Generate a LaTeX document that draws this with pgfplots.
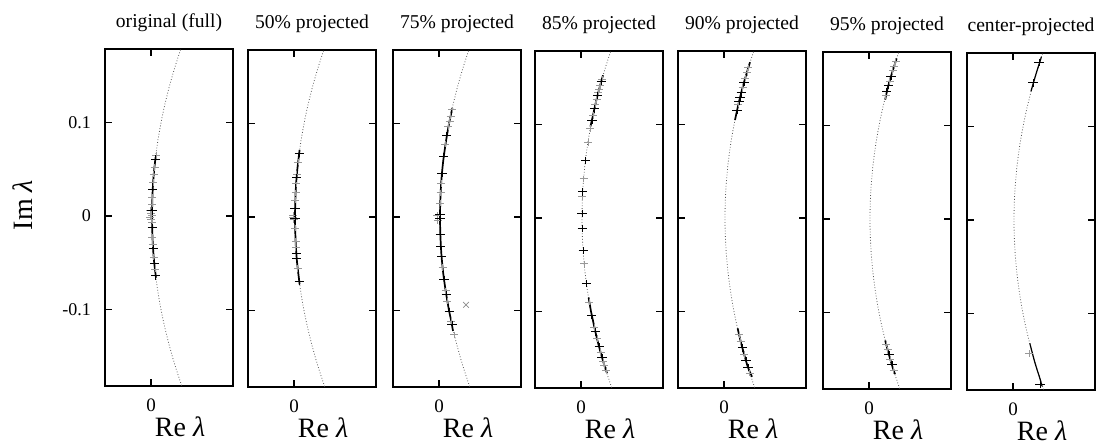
\documentclass[border=0pt]{standalone}
\usepackage{pgfplots}
\pgfplotsset{compat=1.18}
\usepackage{pgfplotstable}
\usepackage{fontspec}
\setmainfont{Liberation Serif}

\pgfplotstableread{
x y
0.01675 -0.19
0.01508 -0.18
0.01351 -0.17
0.01202 -0.16
0.01063 -0.15
0.00932 -0.14
0.00811 -0.13
0.00698 -0.12
0.00595 -0.11
0.00500 -0.10
0.00415 -0.09
0.00338 -0.08
0.00271 -0.07
0.00212 -0.06
0.00163 -0.05
0.00122 -0.04
0.00091 -0.03
0.00068 -0.02
0.00055 -0.01
0.00050 0
0.00055 0.01
0.00068 0.02
0.00091 0.03
0.00122 0.04
0.00163 0.05
0.00212 0.06
0.00271 0.07
0.00338 0.08
0.00415 0.09
0.00500 0.10
0.00595 0.11
0.00698 0.12
0.00811 0.13
0.00932 0.14
0.01063 0.15
0.01202 0.16
0.01351 0.17
0.01508 0.18
0.01675 0.19
}\curvetab

\pgfplotsset{
  panel/.style={
    width=64pt, height=168.5pt, scale only axis, anchor=south west,
    xmin=-0.023, xmax=0.041, ymin=-0.182, ymax=0.179,
    xtick={0}, xticklabels={0}, ytick={-0.1,0,0.1}, yticklabels={},
    tick pos=both, tick align=inside, major tick length=3.5pt,
    xticklabel pos=lower, yticklabel pos=left,
    axis line style={line width=0.6pt},
    every tick/.style={black, line width=0.7pt},
    title style={at={(axis description cs:0.5,1.029)}, anchor=base, font=\fontsize{9.8}{11}\selectfont},
    xticklabel style={anchor=base, yshift=-13pt, font=\fontsize{9.5}{11}\selectfont},
    yticklabel style={xshift=-3.5pt, font=\fontsize{9}{10}\selectfont},
    xlabel={Re \textit{λ}},
    xlabel style={at={(axis description cs:0.586,-0.15)}, anchor=base, inner sep=0pt, font=\fontsize{14}{16}\selectfont},
  },
  curvestyle/.style={black!65, line width=0.4pt, dash pattern=on 0.4pt off 1pt, smooth, no marks},
  segstyle/.style={black, line width=0.85pt, smooth, no marks},
  bmarks/.style={only marks, mark=+, mark size=2.3pt, mark options={black, line width=0.5pt, yscale=0.8}},
  gmarks/.style={only marks, mark=+, mark size=2pt, mark options={black!40, line width=0.4pt, yscale=0.8}},
}

\begin{document}
\begin{tikzpicture}
\path[use as bounding box] (0,0) rectangle (549pt,224pt);

% Panel 1
\begin{axis}[panel, at={(52.5pt,31pt)}, title={original (full)},
  yticklabels={-0.1,0,0.1},
  ylabel={Im \textit{λ}},
  ylabel style={at={(axis description cs:-0.64,0.537)}, anchor=center, font=\fontsize{14}{16}\selectfont}]
\addplot[curvestyle] table {\curvetab};
\addplot[segstyle] coordinates {(0.0025,-0.066)(0.0016,-0.05)(0.0012,-0.04)(0.0009,-0.03)(0.0007,-0.02)(0.0005,0)(0.0007,0.02)(0.0009,0.03)(0.0012,0.04)(0.0016,0.05)(0.0023,0.063)};
\addplot[gmarks] coordinates {(0.0014,0.045)(0.0011,0.036)(0.0007,0.02)(0.0006,0.013)(0.0000,0.003)(-0.0003,-0.001)(0.0003,0.001)(0.0005,-0.007)(0.0007,-0.023)(0.0009,-0.03)(0.0014,-0.044)(0.0020,-0.057)(0.0025,0.065)(0.0018,0.052)(0.0001,-0.004)(-0.0004,0.006)};
\addplot[bmarks] coordinates {(0.0022,0.061)(0.0009,0.029)(0.0005,0.006)(0.0006,-0.012)(0.0011,-0.035)(0.0017,-0.051)(0.0023,-0.064)};
\end{axis}

% Panel 2
\begin{axis}[panel, at={(124pt,30.5pt)}, title={50\% projected}]
\addplot[curvestyle] table {\curvetab};
\addplot[segstyle] coordinates {(0.0028,-0.072)(0.0016,-0.05)(0.0012,-0.04)(0.0009,-0.03)(0.0007,-0.02)(0.0005,0)(0.0007,0.02)(0.0009,0.03)(0.0012,0.04)(0.0016,0.05)(0.0028,0.072)};
\addplot[gmarks] coordinates {(0.0021,0.059)(0.0011,0.036)(0.0008,0.026)(0.0006,0.018)(0.0006,-0.012)(0.0008,-0.026)(0.0019,-0.055)(-0.0005,0.0)(-0.0003,0.002)(-0.0002,-0.003)(0.0014,0.046)(0.0009,-0.033)};
\addplot[bmarks] coordinates {(0.0026,0.068)(0.0013,0.042)(0.0005,0.009)(0.0005,-0.001)(0.0012,-0.039)(0.0014,-0.044)(0.0026,-0.069)};
\end{axis}

% Panel 3
\begin{axis}[panel, at={(196.5pt,30.5pt)}, title={75\% projected}]
\addplot[curvestyle] table {\curvetab};
\addplot[segstyle] coordinates {(0.0070,-0.122)(0.0060,-0.11)(0.0050,-0.10)(0.0034,-0.08)(0.0021,-0.06)(0.0012,-0.04)(0.0007,-0.02)(0.0005,0)(0.0007,0.02)(0.0012,0.04)(0.0021,0.06)(0.0034,0.08)(0.0050,0.10)(0.0067,0.117)};
\addplot[gmarks] coordinates {(0.0065,0.115)(0.0058,0.108)(0.0053,0.103)(0.0047,0.097)(0.0032,0.078)(0.0011,0.036)(0.0008,0.026)(0.0006,0.015)(0.0018,-0.054)(0.0033,-0.079)(0.0042,-0.090)(0.0061,-0.112)(0.0076,-0.126)(-0.0008,0.002)(-0.0006,-0.004)};
\addplot[bmarks] coordinates {(0.0039,0.087)(0.0024,0.065)(0.0015,0.047)(0.0005,0.003)(0.0005,-0.002)(0.0007,-0.019)(0.0009,-0.031)(0.0013,-0.042)(0.0025,-0.067)(0.0036,-0.083)(0.0051,-0.101)(0.0065,-0.115)};
\addplot[only marks, mark=x, mark size=2pt, mark options={black!45, line width=0.4pt}] coordinates {(0.0135,-0.094)};
\end{axis}

% Panel 4
\begin{axis}[panel, at={(267.5pt,30pt)}, title={85\% projected}]
\addplot[curvestyle] table {\curvetab};
\addplot[segstyle] coordinates {(0.0047,0.098)(0.0060,0.11)(0.0070,0.12)(0.0081,0.13)(0.0093,0.14)(0.0106,0.15)(0.0110,0.153)};
\addplot[segstyle] coordinates {(0.0130,-0.166)(0.0120,-0.16)(0.0106,-0.15)(0.0093,-0.14)(0.0081,-0.13)(0.0070,-0.12)(0.0060,-0.11)(0.0050,-0.10)(0.0038,-0.085)};
\addplot[gmarks] coordinates {(0.0105,0.149)(0.0096,0.142)(0.0091,0.138)(0.0087,0.135)(0.0078,0.127)(0.0072,0.122)(0.0060,0.110)(0.0046,0.096)(0.0035,0.081)(0.0013,0.042)(0.0007,0.023)(0.0016,-0.049)(0.0042,-0.090)(0.0067,-0.117)(0.0080,-0.129)(0.0098,-0.144)(0.0112,-0.154)(0.0117,-0.158)(0.0125,-0.163)};
\addplot[bmarks] coordinates {(0.0101,0.146)(0.0082,0.131)(0.0067,0.117)(0.0055,0.105)(0.0022,0.062)(0.0009,0.028)(0.0005,0.005)(0.0006,-0.011)(0.0011,-0.035)(0.0027,-0.070)(0.0054,-0.104)(0.0072,-0.122)(0.0091,-0.138)(0.0105,-0.149)};
\end{axis}

% Panel 5
\begin{axis}[panel, at={(339pt,30pt)}, title={90\% projected}]
\addplot[curvestyle] table {\curvetab};
\addplot[segstyle] coordinates {(0.0055,0.105)(0.0070,0.12)(0.0081,0.13)(0.0093,0.14)(0.0106,0.15)(0.0120,0.16)(0.0130,0.167)};
\addplot[segstyle] coordinates {(0.0140,-0.170)(0.0120,-0.16)(0.0106,-0.15)(0.0093,-0.14)(0.0081,-0.13)(0.0068,-0.118)};
\addplot[gmarks] coordinates {(0.0122,0.161)(0.0115,0.156)(0.0106,0.150)(0.0093,0.140)(0.0072,0.122)(0.0075,-0.125)(0.0083,-0.132)(0.0101,-0.146)(0.0129,-0.166)};
\addplot[bmarks] coordinates {(0.0100,0.145)(0.0086,0.134)(0.0080,0.129)(0.0075,0.125)(0.0065,0.115)(0.0092,-0.139)(0.0110,-0.153)(0.0120,-0.160)};
\end{axis}

% Panel 6
\begin{axis}[panel, at={(411.5pt,29.5pt)}, title={95\% projected}]
\addplot[curvestyle] table {\curvetab};
\addplot[segstyle] coordinates {(0.0081,0.128)(0.0093,0.14)(0.0106,0.15)(0.0120,0.16)(0.0135,0.17)(0.0138,0.172)};
\addplot[segstyle] coordinates {(0.0130,-0.166)(0.0120,-0.16)(0.0106,-0.15)(0.0093,-0.14)(0.0081,-0.13)};
\addplot[gmarks] coordinates {(0.0134,0.169)(0.0126,0.164)(0.0119,0.159)(0.0104,0.148)(0.0083,0.132)(0.0086,-0.134)(0.0093,-0.140)(0.0106,-0.150)(0.0123,-0.162)};
\addplot[bmarks] coordinates {(0.0110,0.153)(0.0097,0.143)(0.0089,0.137)(0.0100,-0.145)(0.0115,-0.156)};
\end{axis}

% Panel 7
\begin{axis}[panel, at={(483.5pt,29pt)}, title={center-projected}]
\addplot[curvestyle] table {\curvetab};
\addplot[segstyle, line width=0.6pt] coordinates {(0.0090,0.138)(0.0106,0.15)(0.0120,0.16)(0.0135,0.17)(0.0142,0.175)};
\addplot[segstyle, line width=0.6pt] coordinates {(0.0145,-0.178)(0.0135,-0.17)(0.0120,-0.16)(0.0106,-0.15)(0.0084,-0.132)};
\addplot[gmarks] coordinates {(0.0080,-0.143)};
\addplot[bmarks] coordinates {(0.0130,0.169)(0.0100,0.147)(0.0135,-0.176)};
\end{axis}
\end{tikzpicture}
\end{document}
